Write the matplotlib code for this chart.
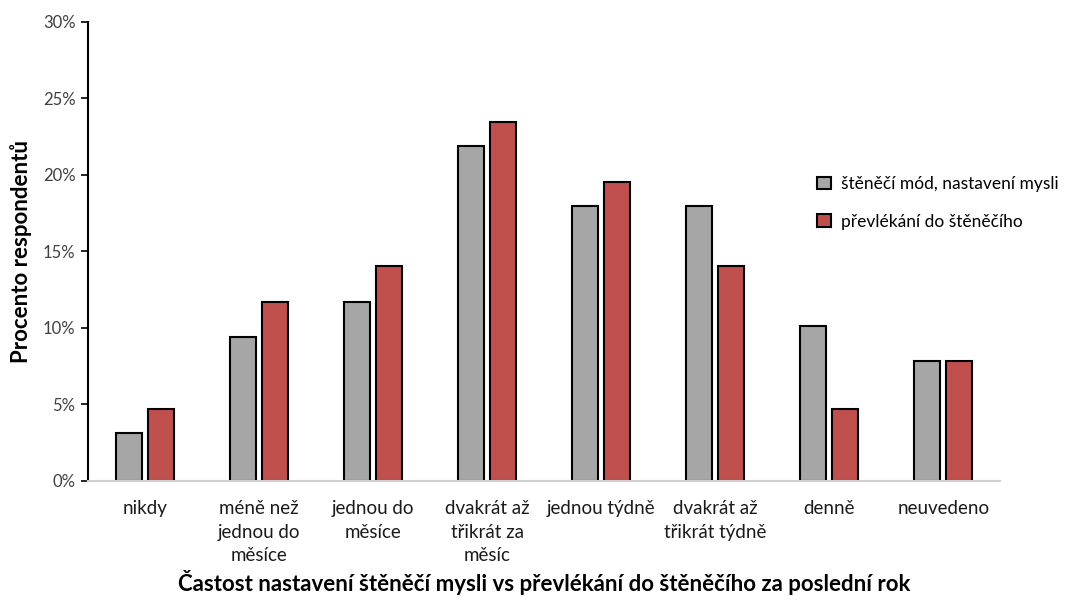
import numpy as np
import matplotlib
matplotlib.use('Agg')
import matplotlib.pyplot as plt
from matplotlib.ticker import FuncFormatter

plt.rcParams['font.family'] = ['Lato', 'DejaVu Sans']

# Data (podíl respondentů v %)
kategorie = ['nikdy', 'méně než\njednou do\nměsíce', 'jednou do\nměsíce',
             'dvakrát až\ntřikrát za\nměsíc', 'jednou týdně',
             'dvakrát až\ntřikrát týdně', 'denně', 'neuvedeno']
mod_mysli = [3.13, 9.38, 11.72, 21.88, 17.97, 17.97, 10.16, 7.81]
prevlekani = [4.69, 11.72, 14.06, 23.44, 19.53, 14.06, 4.69, 7.81]
nazvy = ['štěněčí mód, nastavení mysli', 'převlékání do štěněčího']

fig = plt.figure(figsize=(10.72, 6.01), dpi=100)
ax = fig.add_axes([0.0821, 0.1997, 0.851, 0.7637])

x = np.arange(len(kategorie))
w = 0.23
ax.bar(x - 0.14, mod_mysli, w, color='#A6A6A6', edgecolor='black', linewidth=1.5, label=nazvy[0])
ax.bar(x + 0.14, prevlekani, w, color='#C0504D', edgecolor='black', linewidth=1.5, label=nazvy[1])

ax.set_xlim(-0.5, len(kategorie) - 0.5)
ax.set_ylim(0, 30)
ax.set_yticks(range(0, 31, 5))
ax.yaxis.set_major_formatter(FuncFormatter(lambda v, p: f'{int(v)}%'))
ax.set_xticks(x)
ax.set_xticklabels(kategorie, fontsize=13.5, color='#1a1a1a', linespacing=1.45)
ax.tick_params(axis='x', length=0, pad=14)
ax.tick_params(axis='y', direction='out', length=5, width=1.2, labelsize=12, labelcolor='#404040', pad=4)

for s in ['top', 'right']:
    ax.spines[s].set_visible(False)
ax.spines['left'].set_linewidth(1.5)
ax.spines['bottom'].set_color('#D0D0D0')
ax.spines['bottom'].set_linewidth(1.5)

ax.set_ylabel('Procento respondentů', fontsize=16, fontweight='bold', labelpad=8)
ax.set_xlabel('Častost nastavení štěněčí mysli vs převlékání do štěněčího za poslední rok',
              fontsize=16, fontweight='bold', labelpad=4)

fig.legend(loc='upper left', bbox_to_anchor=(0.748, 0.733), frameon=False, fontsize=12.5,
           handlelength=0.75, handleheight=0.75, handletextpad=0.6, labelspacing=1.25)

fig.savefig('out.png', dpi=100)
